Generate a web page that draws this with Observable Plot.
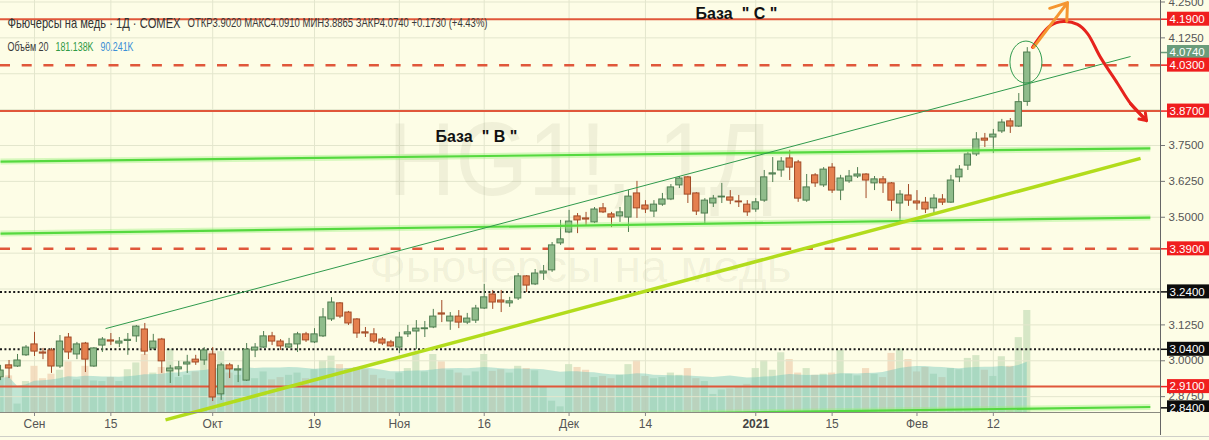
<!DOCTYPE html>
<html><head><meta charset="utf-8">
<script src="https://cdn.jsdelivr.net/npm/d3@7"></script>
<script src="https://cdn.jsdelivr.net/npm/@observablehq/plot@0.6"></script>
<style>
body{margin:0;background:#fff;}
#wrap{position:relative;width:1209px;height:440px;background:#fdfde6;overflow:hidden;}
#wrap svg{position:absolute;left:0;top:0;}
</style></head><body><div id="wrap"></div>
<script>
// ---- data (daily bars, bar position index; index 0 = 1 Sep 2020) ----
const firstIndex = -4;
const open = [2.942,2.984,2.980,3.019,
 3.057,3.029,3.036,2.980,3.081,3.022,3.060,2.980,3.053,3.071,
 3.060,3.069,3.085,3.109,3.043,3.074,2.963,2.970,2.987,3.004,
 3.001,3.022,2.883,2.984,2.966,2.931,3.036,3.046,3.085,3.067,
 3.046,3.057,3.092,3.064,3.085,3.144,3.200,3.168,3.144,3.099,
 3.092,3.074,3.064,3.046,3.092,3.102,3.110,3.116,3.165,3.137,
 3.154,3.133,3.140,3.182,3.231,3.210,3.200,3.217,3.294,3.266,
 3.304,3.315,3.409,3.447,3.503,3.496,3.482,3.531,3.510,3.503,
 3.499,3.583,3.541,3.520,3.544,3.562,3.611,3.639,3.583,3.513,
 3.548,3.569,3.569,3.555,3.544,3.527,3.558,3.649,3.663,3.705,
 3.691,3.558,3.646,3.611,3.673,3.593,3.625,3.642,3.649,3.618,
 3.632,3.618,3.548,3.576,3.555,3.551,3.531,3.562,3.551,3.639,
 3.680,3.719,3.774,3.778,3.799,3.834,3.816,3.902];
const high = [2.984,3.001,3.022,3.053,
 3.099,3.043,3.043,3.088,3.095,3.064,3.064,3.046,3.081,3.095,
 3.081,3.095,3.123,3.130,3.092,3.078,2.984,2.998,3.019,3.019,
 3.046,3.046,2.991,2.991,2.984,3.060,3.060,3.102,3.099,3.074,
 3.078,3.099,3.099,3.112,3.182,3.220,3.203,3.172,3.147,3.116,
 3.112,3.081,3.071,3.099,3.123,3.140,3.137,3.179,3.210,3.168,
 3.175,3.165,3.193,3.266,3.245,3.245,3.221,3.304,3.297,3.318,
 3.332,3.412,3.489,3.524,3.513,3.517,3.534,3.548,3.517,3.534,
 3.593,3.625,3.558,3.558,3.583,3.614,3.642,3.642,3.586,3.565,
 3.576,3.618,3.593,3.576,3.558,3.565,3.663,3.708,3.708,3.733,
 3.698,3.649,3.652,3.673,3.687,3.646,3.663,3.673,3.652,3.642,
 3.642,3.621,3.593,3.614,3.593,3.569,3.579,3.579,3.646,3.680,
 3.726,3.795,3.792,3.806,3.841,3.844,3.931,4.091];
const low = [2.931,2.938,2.977,3.015,
 3.015,3.004,2.956,2.973,3.004,3.004,2.959,2.977,3.029,3.053,
 3.046,3.019,3.064,3.019,3.036,2.956,2.921,2.945,2.956,2.984,
 2.984,2.858,2.862,2.938,2.924,2.928,3.011,3.043,3.053,3.036,
 3.043,3.029,3.064,3.060,3.081,3.137,3.147,3.123,3.078,3.081,
 3.060,3.053,3.046,3.025,3.081,3.039,3.081,3.112,3.133,3.106,
 3.112,3.126,3.130,3.179,3.179,3.168,3.186,3.210,3.238,3.262,
 3.280,3.308,3.402,3.443,3.443,3.471,3.478,3.513,3.464,3.482,
 3.447,3.496,3.513,3.499,3.538,3.558,3.600,3.548,3.506,3.478,
 3.534,3.548,3.544,3.534,3.503,3.517,3.552,3.621,3.639,3.628,
 3.552,3.552,3.604,3.604,3.583,3.558,3.618,3.635,3.565,3.593,
 3.583,3.520,3.489,3.538,3.524,3.513,3.513,3.541,3.548,3.621,
 3.663,3.712,3.743,3.722,3.792,3.792,3.813,3.8865];
const close = [2.966,2.973,3.001,3.046,
 3.032,3.025,2.980,3.067,3.029,3.057,3.004,3.043,3.074,3.067,
 3.067,3.073,3.119,3.032,3.067,2.998,2.973,2.977,2.994,2.994,
 3.036,2.872,2.984,2.970,2.970,3.039,3.046,3.085,3.067,3.050,
 3.057,3.092,3.071,3.092,3.151,3.203,3.154,3.130,3.095,3.095,
 3.067,3.060,3.050,3.081,3.099,3.112,3.113,3.154,3.161,3.154,
 3.133,3.147,3.182,3.221,3.203,3.203,3.207,3.294,3.262,3.304,
 3.311,3.402,3.423,3.485,3.489,3.492,3.527,3.517,3.499,3.517,
 3.572,3.531,3.527,3.544,3.562,3.604,3.635,3.579,3.520,3.558,
 3.565,3.572,3.558,3.552,3.517,3.552,3.639,3.653,3.694,3.673,
 3.565,3.604,3.618,3.666,3.593,3.635,3.642,3.649,3.628,3.632,
 3.618,3.558,3.579,3.558,3.548,3.527,3.565,3.551,3.628,3.666,
 3.719,3.771,3.767,3.788,3.830,3.816,3.901,4.074];
const volume = [60,65,15,55,
 82,60,68,75,90,58,82,56,55,62,
 55,76,88,103,70,80,112,62,66,72,
 100,108,108,70,66,95,60,72,58,62,
 66,70,60,76,92,100,85,78,80,76,
 66,60,58,70,78,103,72,103,90,75,
 70,65,72,103,73,76,70,82,78,74,
 45,20,10,85,80,75,62,64,60,66,
 85,92,64,60,62,70,66,78,60,55,
 32,40,42,45,50,78,92,75,106,94,
 70,78,66,68,70,110,68,65,78,68,
 62,105,113,94,72,80,68,62,78,76,
 96,101,75,64,99,82,133,181.138];

const timeTicks = [0,9,21,33,43,53,63,72,85,94,104,113];
const timeLabels = ["Сен","15","Окт","19","Ноя","16","Дек","14","2021","15","Фев","12"];
const gridTicks = [4.25,4.125,4.0,3.875,3.75,3.625,3.5,3.375,3.25,3.125,3.0,2.875];
const priceTickLabels = [4.25,4.125,3.75,3.625,3.5,3.125,3.0,2.875];

const levelsSolid = [4.19, 3.87, 2.91];
const levelsDashed = [4.03, 3.39];
const levelsDotted = [3.24, 3.04];
const channelX1 = [-4.007, -4.007, -4.007];
const channelY1 = [3.694, 3.443, 2.785];
const channelX2 = [131.5, 131.5, 131.5];
const channelY2 = [3.740, 3.499, 2.839];
const trendThin = {x1: 8.37, y1: 3.112, x2: 129.17, y2: 4.060};
const trendLime = {x1: 15.44, y1: 2.794, x2: 130.35, y2: 3.705};
const forecastX = [117.62,119.74,121.27,122.92,124.10,125.63,127.64,129.17,131.05];
const forecastP = [4.092,4.168,4.182,4.172,4.140,4.057,3.966,3.896,3.837];
const upArrow = {x1: 117.74, y1: 4.092, x2: 121.74, y2: 4.248};
const ellipseCenter = {i: 116.9, p: 4.039};

const priceLabels = [
  {p: 4.19, label: "4.1900", kind: "level"},
  {p: 4.074, label: "4.0740", kind: "last"},
  {p: 4.03, label: "4.0300", kind: "level"},
  {p: 3.87, label: "3.8700", kind: "level"},
  {p: 3.39, label: "3.3900", kind: "level"},
  {p: 3.24, label: "3.2400", kind: "dotted"},
  {p: 3.04, label: "3.0400", kind: "dotted"},
  {p: 2.91, label: "2.9100", kind: "level"},
  {p: 2.836, label: "2.8400", kind: "dotted"}
];
const boxColor = {level: "#f01e1e", last: "#6a9d7b", dotted: "#0c0c0c"};

// ---- build ----
const bars = open.map((o, k) => ({i: k + firstIndex, o, h: high[k], l: low[k], c: close[k], v: volume[k]}));
const channels = channelX1.map((x1, k) => ({x1, y1: channelY1[k], x2: channelX2[k], y2: channelY2[k]}));
const forecast = forecastX.map((x, k) => ({x, p: forecastP[k]}));
const timeData = timeTicks.map((i, k) => ({i, label: timeLabels[k]}));

const W = 1209, H = 440;
const xDomain = [-4.007, 132.7];
const yDomain = [2.8198, 4.2552];
const BG = "#fdfde6";
const FONT = "'Liberation Sans', Arial, sans-serif";
const common = {width: W, height: H, marginLeft: 0, marginRight: 49, marginTop: 0, marginBottom: 28,
  style: {background: "transparent", fontFamily: FONT, overflow: "visible"}};

const UP = "#8fbc8b", UPS = "#4f7d50", DN = "#e5804f", DNS = "#a24b27";

const volPlot = Plot.plot({
  ...common,
  x: {domain: xDomain, axis: null},
  y: {domain: [0, 731.6], axis: null},
  marks: [
    Plot.ruleX(timeTicks, {x: d => d, stroke: "#e3e6cd", strokeWidth: 1}),
    Plot.rect(bars, {x1: d => d.i - 0.42, x2: d => d.i + 0.42, y1: 0, y2: "v",
      fill: d => d.c >= d.o ? "#cfe3bf" : "#f1d7b8", fillOpacity: 0.85}),
    Plot.areaY(bars, Plot.windowY({k: 20, anchor: "end", reduce: "mean"},
      {x: "i", y: "v", fill: "#6cc3bb", fillOpacity: 0.42}))
  ]
});

const tag = name => () => name;
const rightX = 1160;
const pricePlot = Plot.plot({
  ...common,
  x: {domain: xDomain, axis: null},
  y: {domain: yDomain, axis: null},
  marks: [
    Plot.ruleY(gridTicks, {y: d => d, stroke: "#e3e6cd", strokeWidth: 1}),
    // watermark
    Plot.text(["HG1!, 1Д"], {text: d => d, frameAnchor: "middle", dy: -45, fontSize: 104, fill: "#5a5a30", fillOpacity: 0.08, ariaLabel: tag("wm1")}),
    Plot.text(["Фьючерсы на медь"], {text: d => d, frameAnchor: "middle", dy: 61, fontSize: 44, fill: "#5a5a30", fillOpacity: 0.08, ariaLabel: tag("wm2")}),
    // horizontal levels
    Plot.ruleY(levelsDotted, {y: d => d, stroke: "#1a1a1a", strokeWidth: 2, strokeDasharray: "2,2.4"}),
    Plot.ruleY(levelsDashed, {y: d => d, stroke: "#e0573a", strokeWidth: 2.5, strokeDasharray: "10,11.7"}),
    Plot.ruleY(levelsSolid, {y: d => d, stroke: "#e0573a", strokeWidth: 2}),
    // candles
    Plot.ruleX(bars, {x: "i", y1: "l", y2: "h", stroke: d => d.c >= d.o ? UPS : DNS, strokeWidth: 1}),
    Plot.rect(bars, {x1: d => d.i - 0.37, x2: d => d.i + 0.37, y1: "o", y2: "c",
      fill: d => d.c >= d.o ? UP : DN, stroke: d => d.c >= d.o ? UPS : DNS, strokeWidth: 1}),
    // channel lines (glow + line)
    Plot.link(channels, {x1: "x1", y1: "y1", x2: "x2", y2: "y2", stroke: "#9cf07e", strokeWidth: 6, strokeOpacity: 0.4, clip: true}),
    Plot.link(channels, {x1: "x1", y1: "y1", x2: "x2", y2: "y2", stroke: "#55d93f", strokeWidth: 2.2, clip: true}),
    Plot.link([trendLime], {x1: "x1", y1: "y1", x2: "x2", y2: "y2", stroke: "#b2dc1c", strokeWidth: 3.5}),
    Plot.link([trendThin], {x1: "x1", y1: "y1", x2: "x2", y2: "y2", stroke: "#2f9a4c", strokeWidth: 1}),
    // forecast arrows
    Plot.line(forecast, {x: "x", y: "p", curve: "catmull-rom", stroke: "#e6231d", strokeWidth: 3}),
    Plot.arrow([forecast[forecast.length - 2]], {x1: "x", y1: "p", x2: () => forecast[forecast.length - 1].x, y2: () => forecast[forecast.length - 1].p,
      stroke: "#e6231d", strokeWidth: 3, headLength: 14, headAngle: 70}),
    Plot.arrow([upArrow], {x1: "x1", y1: "y1", x2: "x2", y2: "y2", stroke: "#f59630", strokeWidth: 3, headLength: 12, headAngle: 70}),
    // base labels
    Plot.text([{i: 47.26, p: 3.781, t: "База\u00a0\u00a0\"\u00a0В\u00a0\""}], {x: "i", y: "p", text: "t", textAnchor: "start", fontSize: 16, fontWeight: "bold", fill: "#111"}),
    Plot.text([{i: 77.9, p: 4.210, t: "База\u00a0\u00a0\"\u00a0С\u00a0\""}], {x: "i", y: "p", text: "t", textAnchor: "start", fontSize: 16, fontWeight: "bold", fill: "#111"}),
    // header
    Plot.text(["Фьючерсы на медь · 1Д · COMEX"], {text: d => d, frameAnchor: "top-left", dx: 7, dy: 17, textAnchor: "start", fontSize: 15, fill: "#333", ariaLabel: tag("hdr-title")}),
    Plot.text(["ОТКР3.9020 МАКС4.0910 МИН3.8865 ЗАКР4.0740 +0.1730 (+4.43%)"], {text: d => d, frameAnchor: "top-left", dx: 187, dy: 17, textAnchor: "start", fontSize: 13, fill: "#3a3a3a", ariaLabel: tag("hdr-ohlc")}),
    Plot.text(["Объём 20"], {text: d => d, frameAnchor: "top-left", dx: 7, dy: 41, textAnchor: "start", fontSize: 13, fill: "#3a3a3a", ariaLabel: tag("hdr-vol")}),
    Plot.text(["181.138K"], {text: d => d, frameAnchor: "top-left", dx: 55, dy: 41, textAnchor: "start", fontSize: 13, fill: "#2f9a45", ariaLabel: tag("hdr-v1")}),
    Plot.text(["90.241K"], {text: d => d, frameAnchor: "top-left", dx: 100, dy: 41, textAnchor: "start", fontSize: 13, fill: "#3b8fd6", ariaLabel: tag("hdr-v2")}),
    // right price axis
    Plot.ruleY(priceTickLabels, {y: d => d, stroke: "#777", insetLeft: rightX, insetRight: -5}),
    Plot.text(priceTickLabels, {y: d => d, text: d => d.toFixed(4), frameAnchor: "right", dx: 8, textAnchor: "start", fontSize: 11.5, fill: "#555"}),
    Plot.rect(priceLabels, {y1: "p", y2: "p", insetTop: -7, insetBottom: -7, insetLeft: rightX + 7, insetRight: -49, fill: d => boxColor[d.kind]}),
    Plot.ruleY(priceLabels, {y: "p", stroke: d => boxColor[d.kind], strokeWidth: 1.5, insetLeft: rightX, insetRight: -7}),
    Plot.text(priceLabels, {y: "p", text: "label", frameAnchor: "right", dx: 9, textAnchor: "start", fontSize: 11.5, fill: "#fff"}),
    Plot.rect([0], {y1: yDomain[0], y2: yDomain[0], insetTop: 0, insetBottom: -28, insetLeft: rightX + 1, insetRight: -49, fill: BG}),
    // axis lines
    Plot.ruleX([xDomain[1]], {stroke: "#666", strokeWidth: 1, insetBottom: -23}),
    Plot.ruleY([yDomain[0]], {stroke: "#8a8a80", strokeWidth: 1}),
    Plot.ruleY([yDomain[0]], {stroke: "#cfcfc8", strokeWidth: 1, dy: 24, insetRight: -49}),
    // time axis
    Plot.ruleX(timeTicks, {x: d => d, y1: yDomain[0], y2: yDomain[0], stroke: "#888", insetBottom: -4}),
    Plot.text(timeData.filter(d => d.label !== "2021"), {x: "i", text: "label", frameAnchor: "bottom", dy: 15, fontSize: 12, fill: "#555"}),
    Plot.text(timeData.filter(d => d.label === "2021"), {x: "i", text: "label", frameAnchor: "bottom", dy: 15, fontSize: 12, fontWeight: "bold", fill: "#444"})
  ]
});

// ellipse around the last candle, placed with the plot's scales
const sx = pricePlot.scale("x"), sy = pricePlot.scale("y");
d3.select(pricePlot).append("ellipse")
  .attr("cx", sx.apply(ellipseCenter.i)).attr("cy", sy.apply(ellipseCenter.p))
  .attr("rx", 16).attr("ry", 21)
  .attr("fill", "none").attr("stroke", "#2f9a4c").attr("stroke-width", 1);

// fit condensed header / watermark text widths
const fit = {"hdr-title": 173, "hdr-ohlc": 300, "hdr-vol": 41, "hdr-v1": 38, "hdr-v2": 33, "wm1": 385, "wm2": 422};
for (const [k, w] of Object.entries(fit)) {
  d3.select(pricePlot).selectAll(`[aria-label="${k}"]`).each(function() {
    const sel = this.tagName.toLowerCase() === "text" ? d3.select(this) : d3.select(this).selectAll("text");
    sel.attr("textLength", w).attr("lengthAdjust", "spacingAndGlyphs");
  });
}

const wrap = document.getElementById("wrap");
wrap.appendChild(volPlot);
wrap.appendChild(pricePlot);
</script></body></html>
